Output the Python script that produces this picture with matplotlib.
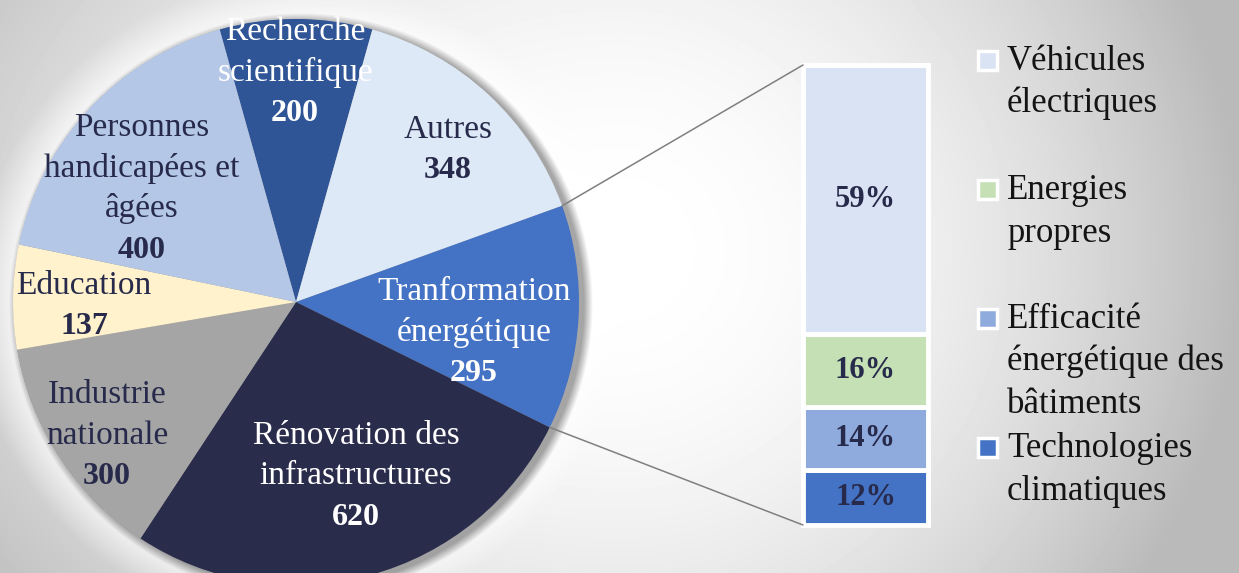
import numpy as np
import matplotlib
matplotlib.use('Agg')
import matplotlib.pyplot as plt
from matplotlib.patches import ConnectionPatch, Rectangle

# ---------------- data ----------------
categories = ["Recherche\nscientifique", "Autres", "Tranformation\nénergétique",
              "Rénovation des\ninfrastructures", "Industrie\nnationale", "Education",
              "Personnes\nhandicapées et\nâgées"]
values = [200, 348, 295, 620, 300, 137, 400]

sub_categories = ["Véhicules\nélectriques", "Energies\npropres",
                  "Efficacité\nénergétique des\nbâtiments", "Technologies\nclimatiques"]
sub_shares = [59, 16, 14, 12]

# ---------------- styles ----------------
NAVY = '#272A4A'
pie_colors = ['#2F5597', '#DDE9F6', '#4472C4', '#2A2C4C', '#A5A5A5', '#FFF2CC', '#B4C7E7']
label_colors = ['white', NAVY, 'white', 'white', NAVY, NAVY, NAVY]
sub_colors = ['#DAE3F3', '#C5E0B4', '#8FAADC', '#4472C4']

# label anchors: (x centre, baseline of first line) in pixel coords (y down)
label_pos = [(295, 40), (448, 138), (474, 300), (356, 444), (107, 403), (84, 294), (142, 136)]
LINE = 40.5

W, H = 1239, 573
PCX, PCY, PR = 296, 302, 283  # pie centre / radius in pixels (y down)

plt.rcParams['font.family'] = ['Liberation Serif', 'DejaVu Serif']

fig = plt.figure(figsize=(W / 100, H / 100), dpi=100)
ax = fig.add_axes([0, 0, 1, 1])

# ---------------- background gradient + glow + shadow ----------------
yy, xx = np.mgrid[0:H, 0:W] + 0.5
cx, cy = 620, 250
axw = np.where(xx < cx, 800.0, 620.0)
r2 = ((xx - cx) / axw) ** 2 + ((yy - cy) / 600.0) ** 2
bg = 1 - 0.27 * np.clip(r2, 0, 1)
d = np.hypot(xx - PCX, yy - PCY)
glow = np.clip(1 - (d - PR) / 40.0, 0, 1) * (d > PR)
bg = bg + (1 - bg) * 0.7 * glow
ds = np.hypot(xx - (PCX + 5), yy - (PCY + 3))
sh = 0.35 * np.clip(1 - (ds - PR) / 9.0, 0, 1)
bg = bg * (1 - sh)
ax.imshow(bg, cmap='gray', vmin=0, vmax=1, extent=[0, W, 0, H], origin='upper',
          interpolation='bilinear', zorder=0, aspect='auto')

# ---------------- pie ----------------
total = sum(values)
start = 90 + values[0] / total * 180
wedges, _ = ax.pie(values, colors=pie_colors, startangle=start, counterclock=False,
                   center=(PCX, H - PCY), radius=PR, frame=True,
                   wedgeprops=dict(linewidth=0))
for w in wedges:
    w.set_zorder(2)

for name, val, (lx, ly), col in zip(categories, values, label_pos, label_colors):
    lines = name.split('\n')
    for i, ln in enumerate(lines):
        ax.text(lx, H - (ly + i * LINE), ln, ha='center', va='baseline',
                fontsize=24, color=col, zorder=5)
    ax.text(lx, H - (ly + len(lines) * LINE), str(val), ha='center', va='baseline',
            fontsize=23, fontweight='bold', color=col, zorder=5)

ax.set_xlim(0, W)
ax.set_ylim(0, H)
ax.set_aspect('auto')
ax.axis('off')

# ---------------- stacked bar ----------------
bax = fig.add_axes([803 / W, (H - 525) / H, 125 / W, 460 / H])
bottom = 0
order = list(range(len(sub_shares)))[::-1]
for i in order:
    bax.bar(0, sub_shares[i], bottom=bottom, width=1, color=sub_colors[i],
            edgecolor='white', linewidth=3.5, clip_on=False)
    bax.text(0, bottom + sub_shares[i] / 2, f"{sub_shares[i]}%", ha='center', va='center',
             fontsize=22, fontweight='bold', color=NAVY)
    bottom += sub_shares[i]
bax.set_xlim(-0.5, 0.5)
bax.set_ylim(0, bottom)
bax.axis('off')

# ---------------- connectors ----------------
wt = wedges[2]
for ang, yb in ((wt.theta2, bottom), (wt.theta1, 0)):
    px = PCX + PR * np.cos(np.radians(ang))
    py = (H - PCY) + PR * np.sin(np.radians(ang))
    con = ConnectionPatch(xyA=(px, py), coordsA=ax.transData, xyB=(-0.5, yb),
                          coordsB=bax.transData, color='#7F7F7F', linewidth=1.1, zorder=1)
    fig.add_artist(con)

# ---------------- legend ----------------
LEG_X_MARK, LEG_X_TEXT = 978, 1007
leg_base = 70
leg_step = 129
leg_line = 42.5
for i, (name, col) in enumerate(zip(sub_categories, sub_colors)):
    b = leg_base + i * leg_step
    ax.add_patch(Rectangle((LEG_X_MARK, H - (b - 10) - 10), 19, 19, facecolor=col,
                           edgecolor='white', linewidth=2.5, zorder=5))
    for j, ln in enumerate(name.split('\n')):
        ax.text(LEG_X_TEXT, H - (b + j * leg_line), ln, ha='left', va='baseline',
                fontsize=25, color='#141414', zorder=5)

fig.savefig('out.png', dpi=100)
